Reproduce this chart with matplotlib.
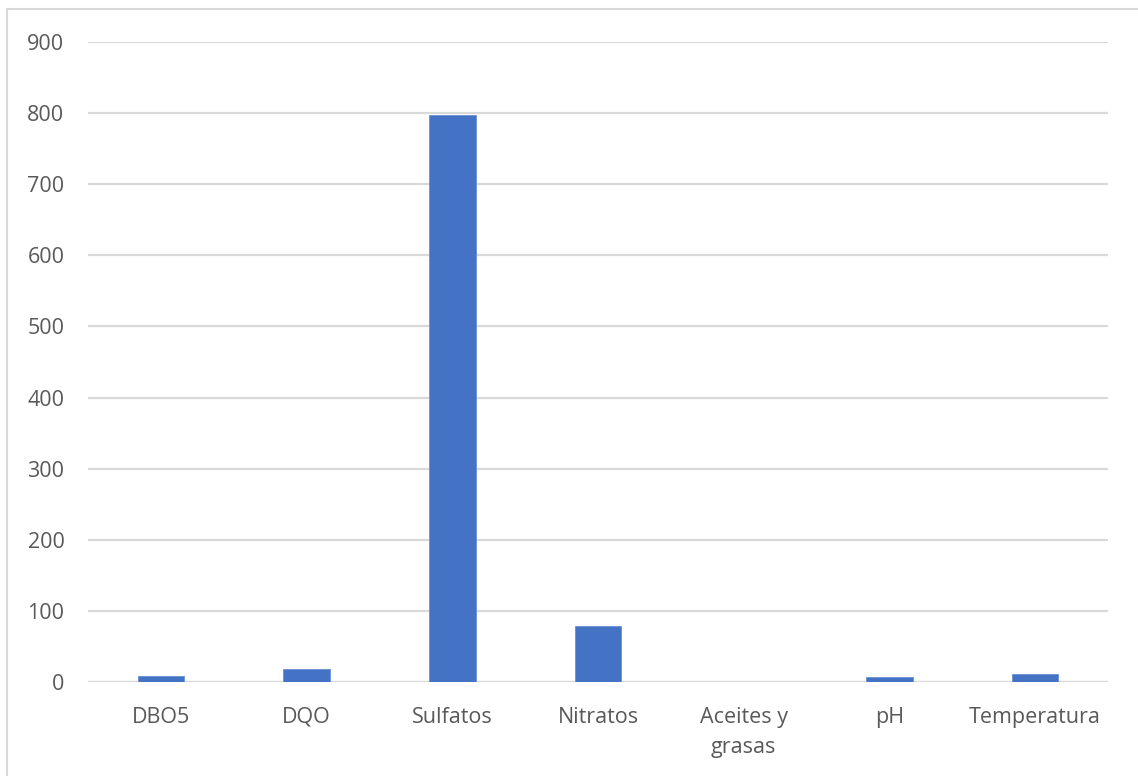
import matplotlib
matplotlib.use("Agg")
import matplotlib.pyplot as plt
from matplotlib.lines import Line2D

categories = ["DBO5", "DQO", "Sulfatos", "Nitratos", "Aceites y\ngrasas", "pH", "Temperatura"]
values = [8, 18, 798, 79, 0, 7, 11]
yticks = [0, 100, 200, 300, 400, 500, 600, 700, 800, 900]

W, H = 1138, 776
fig = plt.figure(figsize=(W / 100, H / 100), dpi=100)
fig.patch.set_facecolor("white")

ax = fig.add_axes([88 / W, 1 - 682 / H, (1108 - 88) / W, (682 - 42) / H])
x = range(len(categories))
ax.bar(x, values, width=0.32, color="#4472C4", edgecolor="#6a8fd4", linewidth=0.6, zorder=3)

ax.set_xlim(-0.5, len(categories) - 0.5)
ax.set_ylim(0, 900)
ax.set_yticks(yticks)
ax.set_xticks(list(x))
ax.set_xticklabels(categories)
ax.grid(axis="y", color="#d9d9d9", linewidth=1.6, zorder=0)
ax.set_axisbelow(True)
for s in ["top", "right", "left", "bottom"]:
    ax.spines[s].set_visible(False)
ax.axhline(0, color="#d9d9d9", linewidth=1.6, zorder=2)
ax.tick_params(axis="both", length=0, labelsize=15.5, labelcolor="#595959")
ax.tick_params(axis="y", pad=17)
ax.tick_params(axis="x", pad=18)
for lbl in ax.get_xticklabels() + ax.get_yticklabels():
    lbl.set_fontfamily("Open Sans")
    lbl.set_linespacing(1.55)
for lbl in ax.get_xticklabels():
    lbl.set_verticalalignment("top")

# chart frame
fig.add_artist(Line2D([6.5 / W, 6.5 / W], [0, 1 - 9 / H], transform=fig.transFigure,
                      color="#d9d9d9", linewidth=1.5))
fig.add_artist(Line2D([6.5 / W, 1], [1 - 9 / H, 1 - 9 / H], transform=fig.transFigure,
                      color="#d9d9d9", linewidth=1.5))

fig.savefig("out.png", dpi=100, facecolor="white")
